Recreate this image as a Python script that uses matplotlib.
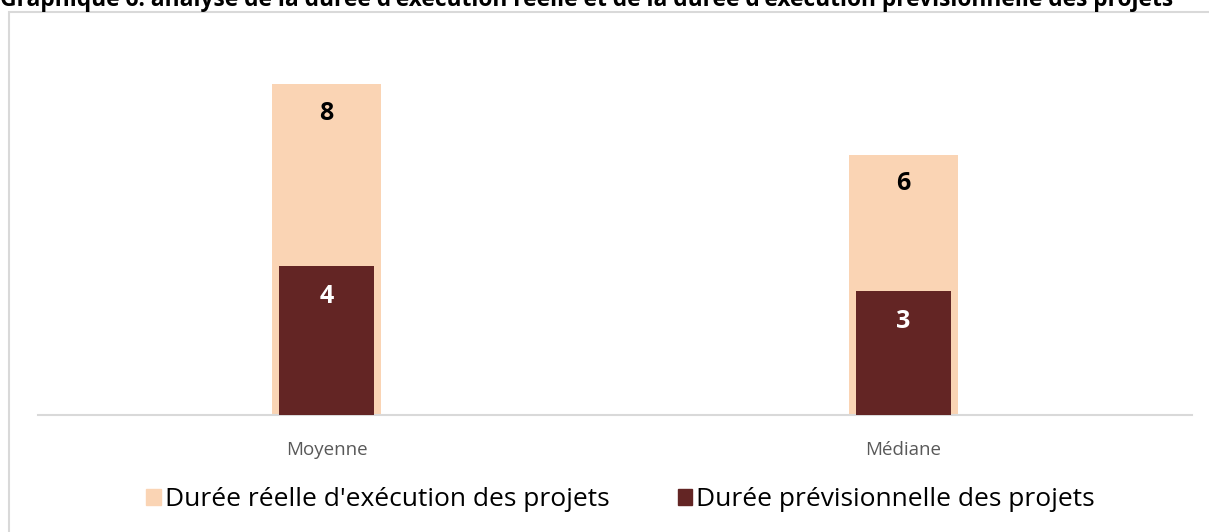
import matplotlib
matplotlib.use("Agg")
import matplotlib.pyplot as plt
from matplotlib.patches import Rectangle, Patch

categories = ["Moyenne", "Médiane"]
duree_reelle = [8.0, 6.3]
duree_prev = [3.6, 3.0]
series_names = ["Durée réelle d'exécution des projets", "Durée prévisionnelle des projets"]
title = "Graphique 6: analyse de la durée d'exécution réelle et de la durée d'exécution prévisionnelle des projets"

c_reel = "#FAD4B4"
c_prev = "#632524"

plt.rcParams['font.family'] = ['Open Sans', 'DejaVu Sans']

W, H = 1209, 532
fig = plt.figure(figsize=(W / 100, H / 100), dpi=100)
ax = fig.add_axes([38 / W, 1 - 415 / H, (1192 - 38) / W, (415 - 43) / H])

x = [0.5 + i for i in range(len(categories))]
b1 = ax.bar(x, duree_reelle, width=0.189, color=c_reel, zorder=2)
b2 = ax.bar(x, duree_prev, width=0.166, color=c_prev, zorder=3)

for xi, v in zip(x, duree_reelle):
    ax.annotate(f"{v:.0f}", (xi, v), xytext=(0, -29), textcoords="offset pixels",
                ha="center", va="center", fontsize=18, fontweight="bold", color="black", zorder=4)
for xi, v in zip(x, duree_prev):
    ax.annotate(f"{v:.0f}", (xi, v), xytext=(0, -30), textcoords="offset pixels",
                ha="center", va="center", fontsize=18, fontweight="bold", color="white", zorder=4)

ax.set_xlim(0, 2)
ax.set_ylim(0, 9.0)
ax.set_xticks(x)
ax.set_xticklabels(categories, fontsize=13.5, color="#595959")
ax.tick_params(axis="x", length=0, pad=19)
ax.set_yticks([])
for s in ["top", "right", "left"]:
    ax.spines[s].set_visible(False)
ax.spines["bottom"].set_color("#D9D9D9")
ax.spines["bottom"].set_linewidth(1.5)
ax.patch.set_alpha(0)

handles = [Patch(color=c_reel), Patch(color=c_prev)]
fig.legend(handles, series_names, loc="center", bbox_to_anchor=(0.5 + 16 / W, 1 - 500 / H),
           ncol=2, frameon=False, fontsize=19, handlelength=0.55, handleheight=0.55,
           handletextpad=0.15, columnspacing=2.6)

# chart border
fig.patches.append(Rectangle((9 / W, -0.1), 1.2, 1 - 12 / H + 0.1, transform=fig.transFigure,
                             fill=False, edgecolor="#D9D9D9", linewidth=1.5, zorder=0))

fig.text(0, 1 - 6 / H, title, ha="left", va="baseline", fontsize=16.4, fontweight="bold", color="black")

fig.savefig("out.png", dpi=100)
